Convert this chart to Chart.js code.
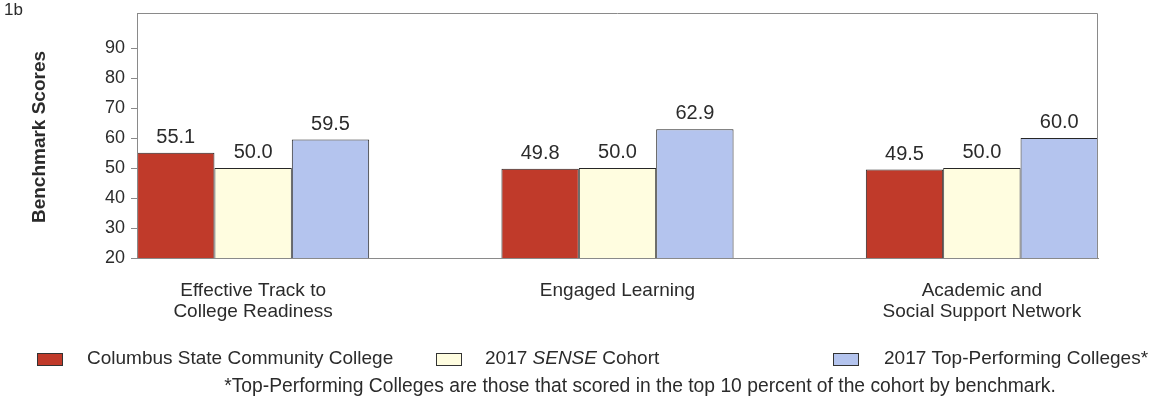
<!DOCTYPE html>
<html>
<head>
<meta charset="utf-8">
<script src="https://cdn.jsdelivr.net/npm/chart.js@4/dist/chart.umd.min.js"></script>
<style>
  html, body { margin: 0; padding: 0; background: #fff; }
  #wrap { width: 1153px; height: 402px; position: relative; }
</style>
</head>
<body>
<div id="wrap"><canvas id="benchChart"></canvas></div>
<script>
const categories = [
    ['Effective Track to', 'College Readiness'],
    ['Engaged Learning'],
    ['Academic and', 'Social Support Network']
];
const seriesNames = ['Columbus State Community College', '2017 SENSE Cohort', '2017 Top-Performing Colleges*'];
const columbusScores = [55.1, 49.8, 49.5];
const cohortScores = [50.0, 50.0, 50.0];
const topScores = [59.5, 62.9, 60.0];
const yTicks = [20, 30, 40, 50, 60, 70, 80, 90];

const FONT = '"Liberation Sans", Arial, sans-serif';
const TEXT = '#2b2b2b';
const colors = ['#c03a2a', '#fffde0', '#b4c4ee'];

const toPoints = arr => arr.map((v, i) => ({ x: i, y: v }));

// outer box, value labels, axis title, legend and footnote
const decorations = {
    id: 'decorations',
    afterDatasetsDraw(chart) {
        const { ctx, chartArea: a } = chart;
        ctx.save();
        ctx.strokeStyle = '#8a8a8a';
        ctx.lineWidth = 1;
        ctx.beginPath();
        ctx.moveTo(a.left + 0.5, a.bottom);
        ctx.lineTo(a.left + 0.5, a.top + 0.5);
        ctx.lineTo(a.right - 0.5, a.top + 0.5);
        ctx.lineTo(a.right - 0.5, a.bottom);
        ctx.stroke();

        ctx.fillStyle = TEXT;
        ctx.font = '20px ' + FONT;
        ctx.textAlign = 'center';
        ctx.textBaseline = 'alphabetic';
        chart.data.datasets.forEach((ds, di) => {
            chart.getDatasetMeta(di).data.forEach((bar, i) => {
                ctx.fillText(ds.data[i].y.toFixed(1), bar.x, bar.y - 10);
            });
        });
        ctx.restore();
    },
    afterDraw(chart) {
        const { ctx } = chart;
        ctx.save();
        ctx.fillStyle = TEXT;

        ctx.font = '17px ' + FONT;
        ctx.textAlign = 'left';
        ctx.textBaseline = 'middle';
        ctx.fillText('1b', 4, 10);

        ctx.save();
        ctx.translate(40, 137);
        ctx.rotate(-Math.PI / 2);
        ctx.font = 'bold 19px ' + FONT;
        ctx.textAlign = 'center';
        ctx.fillText('Benchmark Scores', 0, 0);
        ctx.restore();

        // legend
        const boxX = [37, 436, 833];
        const textX = [87, 485, 884];
        const ly = 359;
        ctx.textBaseline = 'middle';
        seriesNames.forEach((name, i) => {
            ctx.fillStyle = colors[i];
            ctx.fillRect(boxX[i], ly - 6, 25, 12);
            ctx.strokeStyle = '#333';
            ctx.lineWidth = 1;
            ctx.strokeRect(boxX[i] + 0.5, ly - 6 + 0.5, 25, 12);
            ctx.fillStyle = TEXT;
            if (i === 1) {
                let x = textX[i];
                ctx.font = '19px ' + FONT;
                ctx.fillText('2017 ', x, ly);
                x += ctx.measureText('2017 ').width;
                ctx.font = 'italic 19px ' + FONT;
                ctx.fillText('SENSE', x, ly);
                x += ctx.measureText('SENSE').width;
                ctx.font = '19px ' + FONT;
                ctx.fillText(' Cohort', x, ly);
            } else {
                ctx.font = '19px ' + FONT;
                ctx.fillText(name, textX[i], ly);
            }
        });

        ctx.font = '19.3px ' + FONT;
        ctx.textAlign = 'center';
        ctx.fillText('*Top-Performing Colleges are those that scored in the top 10 percent of the cohort by benchmark.', 640, 387);
        ctx.restore();
    }
};

new Chart(document.getElementById('benchChart'), {
    type: 'bar',
    data: {
        datasets: [
            { label: seriesNames[0], data: toPoints(columbusScores), backgroundColor: colors[0] },
            { label: seriesNames[1], data: toPoints(cohortScores), backgroundColor: colors[1] },
            { label: seriesNames[2], data: toPoints(topScores), backgroundColor: colors[2] }
        ].map(ds => Object.assign(ds, {
            borderColor: '#262626',
            borderWidth: 1,
            categoryPercentage: 0.637,
            barPercentage: 1
        }))
    },
    options: {
        responsive: true,
        maintainAspectRatio: false,
        animation: false,
        layout: { padding: { top: 13, right: 55, left: 0, bottom: 0 } },
        plugins: {
            legend: { display: false },
            tooltip: { enabled: false }
        },
        scales: {
            x: {
                type: 'linear',
                offset: false,
                min: -0.3187,
                max: 2.3187,
                afterBuildTicks: s => { s.ticks = categories.map((c, i) => ({ value: i })); },
                afterFit: s => { s.height = 144; s.paddingLeft = 0; s.paddingRight = 0; },
                grid: { display: false, drawTicks: false },
                border: { display: true, color: '#8a8a8a' },
                ticks: {
                    padding: 22,
                    color: TEXT,
                    font: { family: FONT, size: 19, lineHeight: 1.1 },
                    maxRotation: 0,
                    autoSkip: false,
                    callback: v => categories[v]
                }
            },
            y: {
                min: 20,
                max: 101.7,
                afterBuildTicks: s => { s.ticks = yTicks.map(v => ({ value: v })); },
                afterFit: s => { s.width = 137; s.paddingTop = 0; s.paddingBottom = 0; },
                grid: { drawOnChartArea: false, drawTicks: true, tickLength: 6, color: '#8a8a8a' },
                border: { display: true, color: '#8a8a8a' },
                ticks: {
                    padding: 6,
                    color: TEXT,
                    font: { family: FONT, size: 18 }
                }
            }
        }
    },
    plugins: [decorations]
});
</script>
</body>
</html>
